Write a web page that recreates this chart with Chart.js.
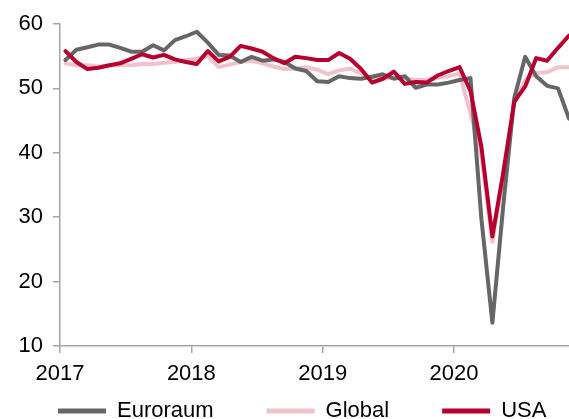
<!DOCTYPE html>
<html>
<head>
<meta charset="utf-8">
<script src="https://cdn.jsdelivr.net/npm/chart.js@4.4.0/dist/chart.umd.min.js"></script>
<style>
  html, body { margin: 0; padding: 0; background: #fff; }
  canvas { display: block; }
</style>
</head>
<body>
<canvas id="pmiChart" width="569" height="419"></canvas>
<script>
// Composite PMI, monthly, Jan 2017 - Nov 2020
const months = [
    "2017-01", "2017-02", "2017-03", "2017-04", "2017-05", "2017-06", "2017-07", "2017-08", "2017-09", "2017-10", "2017-11", "2017-12",
    "2018-01", "2018-02", "2018-03", "2018-04", "2018-05", "2018-06", "2018-07", "2018-08", "2018-09", "2018-10", "2018-11", "2018-12",
    "2019-01", "2019-02", "2019-03", "2019-04", "2019-05", "2019-06", "2019-07", "2019-08", "2019-09", "2019-10", "2019-11", "2019-12",
    "2020-01", "2020-02", "2020-03", "2020-04", "2020-05", "2020-06", "2020-07", "2020-08", "2020-09", "2020-10", "2020-11"
];
const years = ["2017", "2018", "2019", "2020"];

const euro = [
    54.4, 56.0, 56.4, 56.8, 56.8, 56.3, 55.7, 55.7, 56.7, 55.9, 57.5, 58.1,
    58.8, 57.1, 55.2, 55.1, 54.1, 54.9, 54.3, 54.5, 54.1, 53.1, 52.7, 51.1,
    51.0, 51.9, 51.6, 51.5, 51.8, 52.2, 51.5, 51.9, 50.1, 50.6, 50.6, 50.9,
    51.3, 51.6, 29.7, 13.6, 31.9, 48.5, 54.9, 51.9, 50.4, 50.0, 45.3
];
const global = [
    53.9, 53.6, 53.6, 53.4, 53.5, 53.6, 53.6, 53.8, 53.8, 54.0, 54.1, 54.4,
    54.6, 55.0, 53.3, 53.7, 54.1, 54.3, 53.9, 53.4, 53.0, 53.1, 53.3, 52.9,
    52.2, 52.8, 53.1, 52.3, 51.6, 51.5, 51.7, 51.6, 51.3, 51.3, 51.6, 51.9,
    52.3, 46.1, 39.4, 26.2, 36.3, 47.7, 51.3, 52.4, 52.5, 53.3, 53.3
];
const usa = [
    55.8, 54.1, 53.0, 53.2, 53.6, 53.9, 54.6, 55.3, 54.8, 55.2, 54.5, 54.1,
    53.8, 55.8, 54.2, 54.9, 56.6, 56.2, 55.7, 54.7, 53.9, 54.9, 54.7, 54.4,
    54.4, 55.5, 54.6, 53.0, 50.9, 51.5, 52.6, 50.7, 51.0, 50.9, 52.0, 52.7,
    53.3, 49.6, 40.9, 27.0, 37.0, 47.9, 50.3, 54.7, 54.3, 56.3, 58.2
];

// year ticks sit at the start of January, points in the middle of the month
const yearTicks = years.map(y => months.indexOf(y + "-01") - 0.5);

function points(values) {
    return values.map((v, i) => ({ x: i, y: v }));
}

Chart.defaults.font.family = "Arial, 'Liberation Sans', sans-serif";
Chart.defaults.font.size = 22;
Chart.defaults.color = "#000";

const axisColor = "#a6a6a6";

// put the legend right under the year labels
const legendPlacement = {
    id: "legendPlacement",
    afterLayout(chart) {
        const legend = chart.legend;
        legend.left = 5;
        legend.top = 347;
        legend.bottom = 440;
    }
};

const ctx = document.getElementById("pmiChart").getContext("2d");
const chart = new Chart(ctx, {
    type: "line",
    data: {
        datasets: [
            { label: "Euroraum", data: points(euro), borderColor: "#666666", backgroundColor: "#666666", order: 1 },
            { label: "Global", data: points(global), borderColor: "#f0c3cc", backgroundColor: "#f0c3cc", order: 2 },
            { label: "USA", data: points(usa), borderColor: "#b5002f", backgroundColor: "#b5002f", order: 0 }
        ]
    },
    plugins: [legendPlacement],
    options: {
        responsive: false,
        animation: false,
        devicePixelRatio: 1,
        elements: {
            line: { borderWidth: 4, tension: 0, borderCapStyle: "round", borderJoinStyle: "round" },
            point: { radius: 0, hoverRadius: 0 }
        },
        // negative right padding only widens the legend row, the plot stops at the edge
        layout: { padding: { top: 24, left: 12, right: -60, bottom: 0 } },
        scales: {
            x: {
                type: "linear",
                min: yearTicks[0],
                max: 46.0,
                afterBuildTicks: scale => {
                    scale.ticks = yearTicks.map(v => ({ value: v }));
                },
                afterFit: scale => { scale.height = 53; },
                ticks: {
                    autoSkip: false,
                    maxRotation: 0,
                    padding: 8,
                    callback: (value, index) => years[index]
                },
                grid: { drawOnChartArea: false, drawTicks: true, tickLength: 7, color: axisColor, lineWidth: 1.5 },
                border: { color: axisColor, width: 1.5 }
            },
            y: {
                min: 10,
                max: 60,
                afterFit: scale => { scale.width = 48; },
                ticks: { stepSize: 10, padding: 10 },
                grid: { drawOnChartArea: false, drawTicks: true, tickLength: 7, color: axisColor, lineWidth: 1.5 },
                border: { color: axisColor, width: 1.5 }
            }
        },
        plugins: {
            tooltip: { enabled: false },
            legend: {
                position: "bottom",
                align: "start",
                maxHeight: 20,
                labels: {
                    usePointStyle: true,
                    pointStyle: "line",
                    pointStyleWidth: 48,
                    padding: 53,
                    color: "#000",
                    sort: (a, b) => a.datasetIndex - b.datasetIndex,
                    generateLabels: chart =>
                        Chart.defaults.plugins.legend.labels.generateLabels(chart)
                            .map(item => ({ ...item, lineWidth: 5 }))
                }
            }
        }
    }
});
</script>
</body>
</html>
